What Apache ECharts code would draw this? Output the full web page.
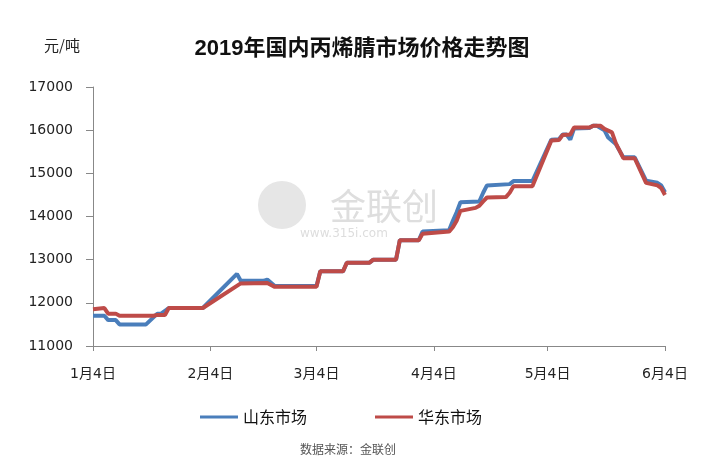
<!DOCTYPE html>
<html>
<head>
<meta charset="utf-8">
<script src="https://cdn.jsdelivr.net/npm/echarts@6/dist/echarts.min.js"></script>
<style>
html,body{margin:0;padding:0;background:#fff;}
#c{width:719px;height:467px;}
</style>
</head>
<body>
<div id="c"></div>
<script>
// ---- data ----
const titleText = '2019年国内丙烯腈市场价格走势图';
const unitText = '元/吨';
const sourceText = '数据来源：金联创';
const seriesNames = ['山东市场', '华东市场'];
const tickDates = ['01-04', '02-04', '03-04', '04-04', '05-04', '06-04'];
const tickLabels = ['1月4日', '2月4日', '3月4日', '4月4日', '5月4日', '6月4日'];
const yTicks = [11000, 12000, 13000, 14000, 15000, 16000, 17000];

const sdDates = ['01-04','01-07','01-08','01-10','01-11','01-18','01-21','01-22','01-24','02-02',
  '02-11','02-12','02-18','02-19','02-21','03-04','03-05','03-11','03-12','03-18',
  '03-19','03-25','03-26','03-31','04-01','04-08','04-09','04-10','04-11','04-16',
  '04-17','04-18','04-24','04-25','04-30','05-05','05-07','05-08','05-09','05-10',
  '05-11','05-15','05-16','05-17','05-19','05-20','05-22','05-24','05-27','05-30',
  '06-02','06-03','06-04'];
const sdPrices = [11700,11700,11600,11600,11500,11500,11750,11750,11880,11880,
  12670,12510,12510,12540,12390,12390,12730,12730,12930,12930,
  13000,13000,13450,13450,13650,13680,13900,14100,14330,14350,
  14550,14720,14750,14820,14820,15780,15790,15900,15900,15780,
  16040,16050,16100,16100,16000,15830,15680,15370,15370,14830,
  14780,14720,14560];

const hdDates = ['01-04','01-07','01-08','01-10','01-11','01-20','01-21','01-23','01-24','02-02',
  '02-12','02-19','02-21','03-04','03-05','03-11','03-12','03-18','03-19','03-25',
  '03-26','03-31','04-01','04-08','04-09','04-10','04-11','04-15','04-16','04-17',
  '04-18','04-23','04-24','04-25','04-30','05-05','05-07','05-08','05-10','05-11',
  '05-15','05-16','05-18','05-19','05-21','05-22','05-24','05-27','05-30','06-02',
  '06-03','06-04'];
const hdPrices = [11850,11880,11750,11750,11700,11700,11720,11720,11880,11880,
  12450,12460,12370,12370,12730,12730,12930,12930,13000,13000,
  13450,13450,13600,13650,13750,13900,14130,14200,14250,14350,
  14440,14450,14550,14700,14700,15760,15770,15890,15900,16060,
  16060,16100,16100,16030,15950,15700,15350,15350,14780,14720,
  14660,14500];

// ---- helpers ----
const YEAR = 2019;
const base = Date.UTC(YEAR, 0, 4);
function dayOf(md) {
  const [m, d] = md.split('-').map(Number);
  return (Date.UTC(YEAR, m - 1, d) - base) / 86400000;
}
const tickDays = tickDates.map(dayOf);
const pairs = (ds, vs) => ds.map((d, i) => [dayOf(d), vs[i]]);

const FONT = "'DejaVu Sans', 'Noto Sans CJK SC', sans-serif";
const chart = echarts.init(document.getElementById('c'), null, {renderer: 'canvas'});
chart.setOption({
  animation: false,
  backgroundColor: '#fff',
  color: ['#4A7EBB', '#BE4B48'],
  grid: {left: 93, right: 54, top: 87, bottom: 121, containLabel: false},
  title: {
    text: titleText, left: 357, top: 33, textAlign: 'center',
    textStyle: {fontFamily: "'Liberation Sans', 'Noto Sans CJK SC', sans-serif", fontSize: 22, fontWeight: 'bold', color: '#111'}
  },
  legend: {
    left: 195, top: 404, itemGap: 68, itemWidth: 38, itemHeight: 3, icon: 'rect',
    textStyle: {fontFamily: "'Noto Sans CJK SC', sans-serif", fontSize: 16, color: '#111'},
    data: seriesNames
  },
  xAxis: {
    type: 'value', min: tickDays[0], max: tickDays[tickDays.length - 1],
    axisLine: {lineStyle: {color: '#888', width: 1}},
    axisTick: {show: true, length: 5, customValues: tickDays, lineStyle: {color: '#888'}},
    splitLine: {show: false},
    axisLabel: {
      customValues: tickDays, margin: 21, fontFamily: FONT, fontSize: 14, color: '#222',
      formatter: v => { const i = tickDays.indexOf(v); return i >= 0 ? tickLabels[i] : ''; }
    }
  },
  yAxis: {
    type: 'value', min: yTicks[0], max: yTicks[yTicks.length - 1], interval: 1000,
    axisLine: {show: true, lineStyle: {color: '#888', width: 1}},
    axisTick: {show: true, length: 7, lineStyle: {color: '#888'}},
    splitLine: {show: false},
    axisLabel: {margin: 20, fontFamily: FONT, fontSize: 14, color: '#222', formatter: v => String(v)}
  },
  graphic: [
    {type: 'circle', shape: {cx: 282, cy: 205, r: 24}, style: {fill: '#e6e6e6'}, z: 0, silent: true},
    {type: 'text', left: 330, top: 188, z: 0, silent: true,
      style: {text: '金联创', font: "36px 'Noto Sans CJK SC'", fill: '#dedede'}},
    {type: 'text', left: 300, top: 228, z: 0, silent: true,
      style: {text: 'www.315i.com', font: "12px 'DejaVu Sans'", fill: '#dddddd'}},
    {type: 'text', left: 44, top: 38, style: {text: unitText, font: "15px 'Noto Sans CJK SC'", fill: '#222'}},
    {type: 'text', left: 300, top: 443, style: {text: sourceText, font: "12px 'Noto Sans CJK SC'", fill: '#555'}}
  ],
  series: [
    {name: seriesNames[0], type: 'line', showSymbol: false, data: pairs(sdDates, sdPrices),
      lineStyle: {width: 4, color: '#4A7EBB'}, itemStyle: {color: '#4A7EBB'}},
    {name: seriesNames[1], type: 'line', showSymbol: false, data: pairs(hdDates, hdPrices),
      lineStyle: {width: 4, color: '#BE4B48'}, itemStyle: {color: '#BE4B48'}}
  ]
});
</script>
</body>
</html>
